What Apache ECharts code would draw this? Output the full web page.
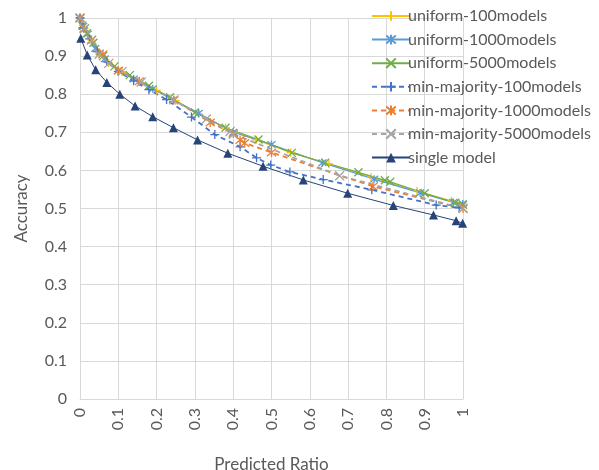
<!DOCTYPE html>
<html>
<head>
<meta charset="utf-8">
<script src="https://cdn.jsdelivr.net/npm/echarts@6/dist/echarts.min.js"></script>
<style>html,body{margin:0;padding:0;background:#fff;}#c{width:599px;height:470px;}</style>
</head>
<body>
<div id="c"></div>
<script>
const seriesNames = ['uniform-100models','uniform-1000models','uniform-5000models','min-majority-100models','min-majority-1000models','min-majority-5000models','single model'];

const uniform100X = [0, 0.012, 0.03, 0.05, 0.075, 0.11, 0.155, 0.2, 0.25, 0.31, 0.38, 0.46, 0.55, 0.65, 0.76, 0.88, 0.97, 1.0];
const uniform100Y = [1.0, 0.973, 0.942, 0.905, 0.882, 0.858, 0.834, 0.81, 0.783, 0.748, 0.712, 0.68, 0.647, 0.617, 0.583, 0.546, 0.52, 0.512];

const uniform1000X = [0, 0.008, 0.02, 0.04, 0.065, 0.1, 0.14, 0.19, 0.245, 0.31, 0.4, 0.5, 0.633, 0.768, 0.888, 0.975, 0.999];
const uniform1000Y = [1.0, 0.978, 0.958, 0.92, 0.893, 0.862, 0.84, 0.814, 0.785, 0.75, 0.70, 0.668, 0.62, 0.577, 0.541, 0.516, 0.512];

const uniform5000X = [0, 0.006, 0.018, 0.035, 0.06, 0.09, 0.13, 0.18, 0.235, 0.3, 0.38, 0.466, 0.553, 0.64, 0.727, 0.796, 0.81, 0.9, 0.98, 1.0];
const uniform5000Y = [1.0, 0.98, 0.96, 0.935, 0.9, 0.873, 0.85, 0.822, 0.792, 0.752, 0.712, 0.681, 0.646, 0.62, 0.595, 0.574, 0.57, 0.54, 0.515, 0.51];

const minMaj100X = [0, 0.008, 0.025, 0.045, 0.07, 0.1, 0.14, 0.18, 0.226, 0.291, 0.352, 0.418, 0.461, 0.498, 0.548, 0.635, 0.762, 0.93, 0.99];
const minMaj100Y = [1.0, 0.975, 0.945, 0.912, 0.885, 0.86, 0.835, 0.812, 0.786, 0.74, 0.694, 0.662, 0.633, 0.614, 0.596, 0.576, 0.549, 0.509, 0.502];

const minMaj1000X = [0, 0.01, 0.03, 0.06, 0.1, 0.155, 0.245, 0.34, 0.4, 0.418, 0.43, 0.5, 0.765, 1.0];
const minMaj1000Y = [1.0, 0.972, 0.942, 0.905, 0.862, 0.834, 0.785, 0.726, 0.697, 0.68, 0.672, 0.647, 0.558, 0.50];

const minMaj5000X = [0, 0.012, 0.03, 0.05, 0.075, 0.11, 0.16, 0.245, 0.33, 0.392, 0.4, 0.678, 1.0];
const minMaj5000Y = [1.0, 0.972, 0.942, 0.905, 0.881, 0.86, 0.832, 0.785, 0.735, 0.702, 0.695, 0.586, 0.50];

const singleX = [0.002, 0.019, 0.041, 0.07, 0.104, 0.144, 0.19, 0.244, 0.307, 0.386, 0.478, 0.583, 0.699, 0.818, 0.923, 0.982, 0.999];
const singleY = [0.947, 0.903, 0.864, 0.831, 0.80, 0.769, 0.741, 0.712, 0.68, 0.645, 0.611, 0.575, 0.54, 0.508, 0.483, 0.468, 0.461];

const xTicks = ['0','0.1','0.2','0.3','0.4','0.5','0.6','0.7','0.8','0.9','1'];
const yTicks = ['0','0.1','0.2','0.3','0.4','0.5','0.6','0.7','0.8','0.9','1'];

const PLUS = 'path://M5,0L5,10M0,5L10,5';
const CROSS = 'path://M0,0L10,10M10,0L0,10';
const STAR = 'path://M0,0L10,10M10,0L0,10M5,-1L5,11';

function pairs(xs, ys){ return xs.map((x,i)=>[x, ys[i]]); }

function mk(name, xs, ys, color, symbol, dashed, width, size, stroke){
  return {
    name: name, type: 'line', data: pairs(xs, ys),
    symbol: symbol, symbolSize: size,
    showAllSymbol: true,
    lineStyle: {color: color, width: width, type: dashed ? [5,4] : 'solid'},
    itemStyle: stroke ? {color: color, borderColor: color, borderWidth: 1.3} : {color: color, borderWidth: 0},
    emphasis: {disabled: true},
    animation: false
  };
}

const chart = echarts.init(document.getElementById('c'), null, {renderer: 'canvas'});
const FONT = 'Lato';
chart.setOption({
  backgroundColor: '#fff',
  animation: false,
  grid: {left: 80, right: 136, top: 18, bottom: 71, containLabel: false, outerBoundsMode: 'none'},
  legend: {
    orient: 'vertical', left: 366, top: 3,
    itemWidth: 38, itemHeight: 12, itemGap: 7.6,
    textStyle: {fontFamily: FONT, fontSize: 16, color: '#595959', padding: [0,0,0,-7]},
    data: seriesNames
  },
  xAxis: {
    type: 'value', min: 0, max: 1, interval: 0.1,
    name: 'Predicted Ratio', nameLocation: 'middle', nameGap: 57,
    nameTextStyle: {fontFamily: FONT, fontSize: 17, color: '#595959'},
    axisLine: {show: true, lineStyle: {color: '#D9D9D9'}},
    axisTick: {show: false},
    axisLabel: {rotate: 90, margin: 9, fontFamily: FONT, fontSize: 16, color: '#595959',
      formatter: (v)=> xTicks[Math.round(v*10)]},
    splitLine: {show: true, lineStyle: {color: '#D9D9D9'}}
  },
  yAxis: {
    type: 'value', min: 0, max: 1, interval: 0.1,
    name: 'Accuracy', nameLocation: 'middle', nameGap: 50,
    nameTextStyle: {fontFamily: FONT, fontSize: 17, color: '#595959'},
    axisLine: {show: true, lineStyle: {color: '#D9D9D9'}},
    axisTick: {show: false},
    axisLabel: {margin: 13, fontFamily: FONT, fontSize: 16, color: '#595959',
      formatter: (v)=> yTicks[Math.round(v*10)]},
    splitLine: {show: true, lineStyle: {color: '#D9D9D9'}}
  },
  series: [
    mk(seriesNames[0], uniform100X, uniform100Y, '#FFC000', PLUS, false, 1.2, 8, true),
    mk(seriesNames[1], uniform1000X, uniform1000Y, '#5B9BD5', STAR, false, 1.2, 8, true),
    mk(seriesNames[2], uniform5000X, uniform5000Y, '#70AD47', CROSS, false, 1.2, 8, true),
    mk(seriesNames[3], minMaj100X, minMaj100Y, '#4472C4', PLUS, true, 1.8, 9, true),
    mk(seriesNames[4], minMaj1000X, minMaj1000Y, '#ED7D31', STAR, true, 1.8, 9, true),
    mk(seriesNames[5], minMaj5000X, minMaj5000Y, '#A5A5A5', CROSS, true, 1.8, 9, true),
    mk(seriesNames[6], singleX, singleY, '#264478', 'triangle', false, 1, 9, false)
  ]
});
</script>
</body>
</html>
